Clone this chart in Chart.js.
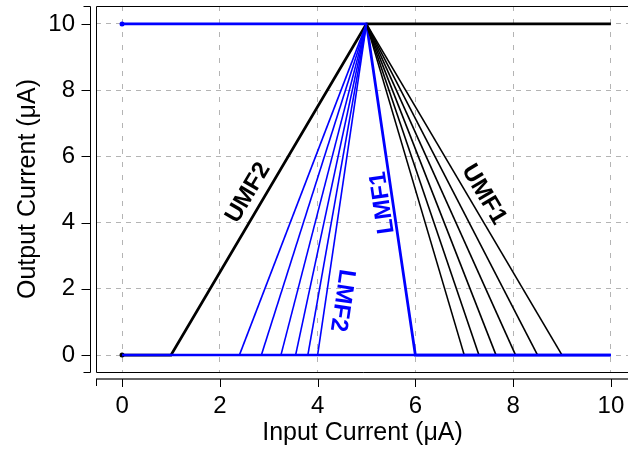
<!DOCTYPE html>
<html>
<head>
<meta charset="utf-8">
<script src="https://cdn.jsdelivr.net/npm/chart.js@4"></script>
<style>
  html, body { margin: 0; padding: 0; background: #fff; overflow: hidden; }
  /* a little wider than the window so the plot box runs off the right edge */
  #wrap { width: 633px; height: 449px; }
</style>
</head>
<body>
<div id="wrap"><canvas id="mf"></canvas></div>
<script>
// outer membership functions (black) and inner ones (blue)
const umfX = [0, 1, 5, 10];
const umfY = [0, 0, 10, 10];
const lmfX = [0, 5, 6, 10];
const lmfY = [10, 10, 0, 0];
const baseX = [0, 10];
const baseY = [0, 0];
const apex = [5, 10];
// feet of the fan lines on the x axis
const umf1Feet = [7.0, 7.3, 7.65, 8.05, 8.5, 9.0];
const lmf2Feet = [2.4, 2.85, 3.25, 3.55, 3.8, 4.0];
const xTicks = [0, 2, 4, 6, 8, 10];
const yTicks = [0, 2, 4, 6, 8, 10];

const BLUE = '#0000ff';
const FONT = "'Liberation Sans', Arial, sans-serif";

function pts(xs, ys) {
    return xs.map((x, i) => ({ x: x, y: ys[i] }));
}

function line(data, color, width) {
    return { data: data, showLine: true, borderColor: color, borderWidth: width,
             pointRadius: 0, fill: false, tension: 0 };
}

const datasets = [];
datasets.push(line(pts(baseX, baseY), BLUE, 2.5));
lmf2Feet.forEach(f => datasets.push(line([{ x: f, y: 0 }, { x: apex[0], y: apex[1] }], BLUE, 1.6)));
umf1Feet.forEach(f => datasets.push(line([{ x: apex[0], y: apex[1] }, { x: f, y: 0 }], '#000', 1.6)));
datasets.push(line(pts(lmfX, lmfY), BLUE, 2.8));
datasets.push(line(pts(umfX, umfY), '#000', 2.8));
// start markers
datasets.push({ data: [{ x: umfX[0], y: umfY[0] }], pointRadius: 2.5, pointBackgroundColor: '#000', pointBorderWidth: 0, showLine: false });
datasets.push({ data: [{ x: lmfX[0], y: lmfY[0] }], pointRadius: 2.5, pointBackgroundColor: BLUE, pointBorderWidth: 0, showLine: false });

// curve names, placed in data units and turned along a reference segment
const names = [
    { text: 'UMF2', color: '#000', at: [2.58, 4.9], along: [[1, 0], [5, 10]] },
    { text: 'UMF1', color: '#000', at: [7.4, 4.85], along: [[5, 10], [9, 0]] },
    { text: 'LMF1', color: BLUE, at: [5.33, 4.6], along: [[6, 0], [5, 10]] },
    { text: 'LMF2', color: BLUE, at: [4.5, 1.65], along: [[5, 10], [4, 0]] }
];

// no extra room for edge labels
function noPad(s) {
    s.paddingTop = 0;
    s.paddingBottom = 0;
    s.paddingLeft = 0;
    s.paddingRight = 0;
}

const frame = {
    id: 'frame',
    afterDraw(chart) {
        const { ctx, chartArea: a, scales } = chart;
        const xs = scales.x, ys = scales.y;
        ctx.save();
        // plot box
        ctx.strokeStyle = '#000';
        ctx.lineWidth = 1;
        ctx.beginPath();
        ctx.moveTo(a.right + 1, a.top + 0.5);
        ctx.lineTo(a.left + 0.5, a.top + 0.5);
        ctx.lineTo(a.left + 0.5, a.bottom + 0.5);
        ctx.lineTo(a.right + 1, a.bottom + 0.5);
        ctx.stroke();

        // detached y axis
        const yx = a.left - 5.5;
        ctx.beginPath();
        ctx.moveTo(yx, a.top + 0.5);
        ctx.lineTo(yx, a.bottom + 0.5);
        ctx.moveTo(yx - 7, a.top + 0.5);
        ctx.lineTo(yx, a.top + 0.5);
        ctx.moveTo(yx - 7, a.bottom + 0.5);
        ctx.lineTo(yx, a.bottom + 0.5);
        yTicks.forEach(v => {
            const py = Math.round(ys.getPixelForValue(v)) + 0.5;
            ctx.moveTo(yx - 9, py);
            ctx.lineTo(yx, py);
        });
        ctx.stroke();

        // detached x axis
        const xy = a.bottom + 7;
        ctx.strokeStyle = '#666';
        ctx.lineWidth = 2;
        ctx.beginPath();
        ctx.moveTo(a.left, xy);
        ctx.lineTo(a.right + 1, xy);
        ctx.stroke();
        ctx.strokeStyle = '#000';
        ctx.lineWidth = 1;
        ctx.beginPath();
        ctx.moveTo(a.left + 0.5, xy);
        ctx.lineTo(a.left + 0.5, xy + 7);
        xTicks.forEach(v => {
            const px = Math.round(xs.getPixelForValue(v)) + 0.5;
            ctx.moveTo(px, xy);
            ctx.lineTo(px, xy + 8);
        });
        ctx.stroke();

        // curve names
        ctx.font = 'bold 24px ' + FONT;
        ctx.textAlign = 'center';
        ctx.textBaseline = 'middle';
        names.forEach(n => {
            const [p, q] = n.along;
            const ang = Math.atan2(ys.getPixelForValue(q[1]) - ys.getPixelForValue(p[1]),
                                   xs.getPixelForValue(q[0]) - xs.getPixelForValue(p[0]));
            ctx.save();
            ctx.translate(xs.getPixelForValue(n.at[0]), ys.getPixelForValue(n.at[1]));
            ctx.rotate(ang);
            ctx.fillStyle = n.color;
            ctx.fillText(n.text, 0, 0);
            ctx.restore();
        });
        ctx.restore();
    }
};

new Chart(document.getElementById('mf'), {
    type: 'scatter',
    data: { datasets: datasets },
    options: {
        responsive: true,
        maintainAspectRatio: false,
        animation: false,
        layout: { padding: { top: 6, right: 0, left: 0, bottom: 0 } },
        plugins: { legend: { display: false }, tooltip: { enabled: false } },
        scales: {
            x: {
                type: 'linear',
                min: -0.533,
                max: 10.37,
                afterFit: s => { s.height = 77; noPad(s); },
                afterBuildTicks: s => { s.ticks = xTicks.map(v => ({ value: v })); },
                grid: { color: '#b4b4b4', lineWidth: 1, drawTicks: false },
                border: { display: false, dash: [5, 8] },
                ticks: { padding: 20, color: '#000', font: { family: FONT, size: 24 } },
                title: { display: true, text: 'Input Current (μA)', color: '#000',
                         font: { family: FONT, size: 25 }, padding: { top: 0, bottom: 1 } }
            },
            y: {
                type: 'linear',
                min: -0.51,
                max: 10.54,
                afterFit: s => { s.width = 96; noPad(s); },
                afterBuildTicks: s => { s.ticks = yTicks.map(v => ({ value: v })); },
                grid: { color: '#b4b4b4', lineWidth: 1, drawTicks: false },
                border: { display: false, dash: [5, 5] },
                ticks: { padding: 21, color: '#000', font: { family: FONT, size: 24 } },
                title: { display: true, text: 'Output Current (μA)', color: '#000',
                         font: { family: FONT, size: 25 }, padding: { top: 13, bottom: 0 } }
            }
        }
    },
    plugins: [frame]
});
</script>
</body>
</html>
